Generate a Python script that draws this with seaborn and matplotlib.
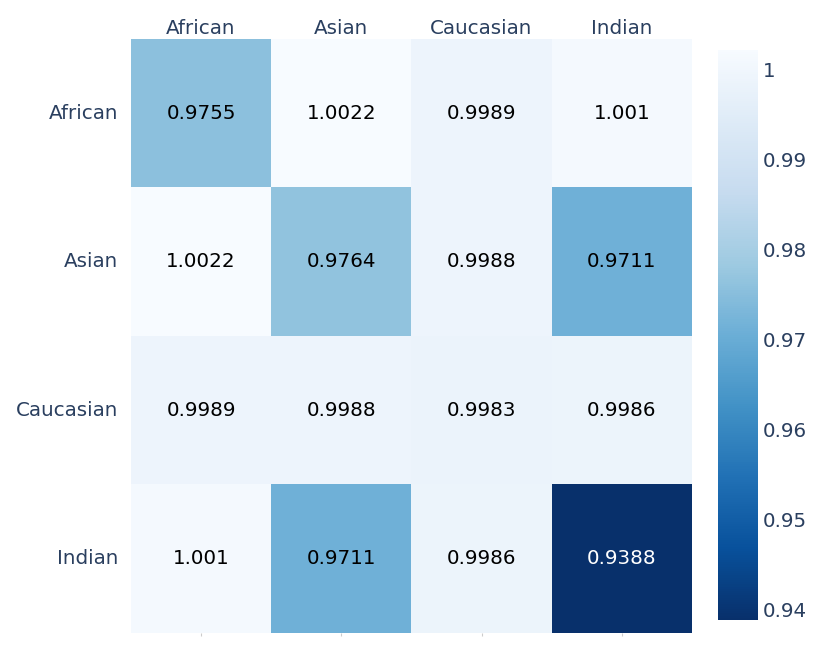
import numpy as np
import pandas as pd
import matplotlib
matplotlib.use("Agg")
import matplotlib.pyplot as plt
import seaborn as sns

# group labels and pairwise values
groups = ["African", "Asian", "Caucasian", "Indian"]
row_african = [0.9755, 1.0022, 0.9989, 1.001]
row_asian = [1.0022, 0.9764, 0.9988, 0.9711]
row_caucasian = [0.9989, 0.9988, 0.9983, 0.9986]
row_indian = [1.001, 0.9711, 0.9986, 0.9388]
cbar_ticks = [0.94, 0.95, 0.96, 0.97, 0.98, 0.99, 1.0]
cbar_labels = ["0.94", "0.95", "0.96", "0.97", "0.98", "0.99", "1"]

df = pd.DataFrame([row_african, row_asian, row_caucasian, row_indian],
                  index=groups, columns=groups)
labels = df.map(lambda v: f"{v:g}")

text_col = "#2a3f5f"
fs = 14.3
fig = plt.figure(figsize=(8.31, 6.59), dpi=100)
ax = fig.add_axes([0.1576, 0.0395, 0.675, 0.9014])
cax = fig.add_axes([0.864, 0.0592, 0.048, 0.865])

sns.heatmap(df, ax=ax, cbar_ax=cax, cmap="Blues_r",
            vmin=df.values.min(), vmax=df.values.max(),
            annot=labels, fmt="", annot_kws={"fontsize": fs})

# black text everywhere except the darkest cell
vmin = df.values.min()
for t in ax.texts:
    t.set_color("white" if float(t.get_text()) == vmin else "black")

ax.tick_params(axis="x", bottom=True, top=False, labelbottom=False, labeltop=True,
               length=2, color="#cccccc", labelsize=fs, labelcolor=text_col, pad=-1.5)
ax.tick_params(axis="y", length=0, labelsize=fs, labelcolor=text_col, pad=9, rotation=0)
ax.set_xlabel("")
ax.set_ylabel("")

cax.set_yticks(cbar_ticks)
cax.set_yticklabels(cbar_labels)
cax.tick_params(length=0, labelsize=fs, labelcolor=text_col, pad=3.5)
for s in cax.spines.values():
    s.set_visible(False)

fig.savefig("out.png", dpi=100)
